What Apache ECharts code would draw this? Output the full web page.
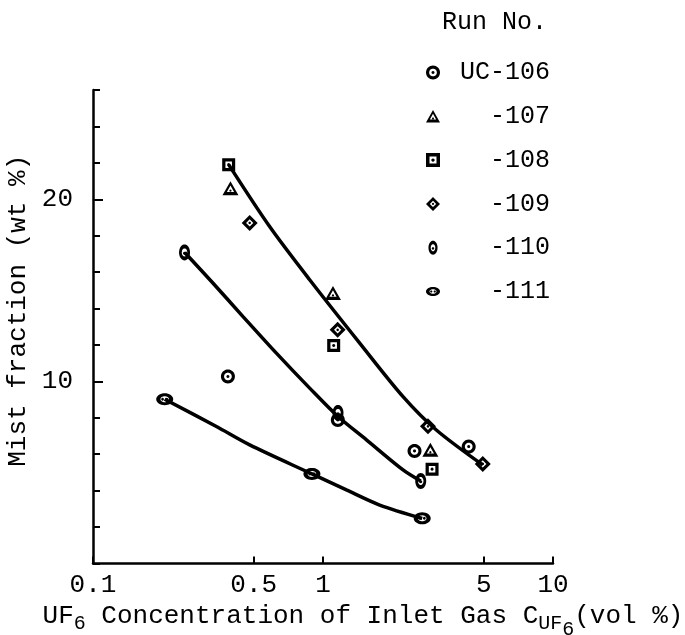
<!DOCTYPE html>
<html>
<head>
<meta charset="utf-8">
<script src="https://cdn.jsdelivr.net/npm/echarts@6/dist/echarts.min.js"></script>
<style>html,body{margin:0;padding:0;background:#fff}#c{width:685px;height:635px}</style>
</head>
<body>
<div id="c"></div>
<script>
// ---- data ----
const xTickValues = [0.1, 0.5, 1, 5, 10];
const xTickLabels = ['0.1', '0.5', '1', '5', '10'];
const yLabelValues = [10, 20];
const runNames = ['UC-106', '-107', '-108', '-109', '-110', '-111'];

const run106 = [[0.386, 10.27], [1.16, 7.88], [2.50, 6.18], [4.30, 6.42]];
const run107 = [[0.396, 20.6], [1.105, 14.85], [2.93, 6.24]];
const run108 = [[0.389, 21.9], [1.113, 11.97], [2.98, 5.18]];
const run109 = [[0.480, 18.7], [1.158, 12.83], [2.86, 7.53], [4.95, 5.47]];
const run110 = [[0.250, 17.08], [1.162, 8.27], [2.66, 4.53]];
const run111 = [[0.205, 9.02], [0.895, 4.92], [2.70, 2.48]];

const curveUpper = [[0.389, 21.9], [0.586, 18.5], [0.875, 15.58], [1.444, 12.1], [2.228, 9.16], [3.11, 7.33], [4.95, 5.41]];
const curveMiddle = [[0.2505, 17.08], [0.332, 15.4], [0.449, 13.56], [0.627, 11.55], [0.875, 9.63], [1.162, 8.07], [1.545, 6.79], [2.228, 5.14], [2.66, 4.53]];
const curveLower = [[0.205, 9.02], [0.344, 7.52], [0.480, 6.51], [0.895, 4.92], [1.264, 4.04], [1.764, 3.21], [2.70, 2.48]];

// ---- marker shapes (styling only) ----
function poly(pts, reverse) {
  const p = reverse ? pts.slice().reverse() : pts;
  return 'M' + p.map(q => q[0].toFixed(2) + ',' + q[1].toFixed(2)).join('L') + 'Z';
}
function ellipsePts(rx, ry, n) {
  const r = [];
  for (let i = 0; i < n; i++) {
    const a = -Math.PI / 2 + i * 2 * Math.PI / n;
    r.push([rx * Math.cos(a), ry * Math.sin(a)]);
  }
  return r;
}
function scalePts(pts, k) { return pts.map(q => [q[0] * k, q[1] * k]); }
function ring(outer, innerK, dots) {
  let s = poly(outer, false) + poly(scalePts(outer, innerK), true);
  (dots || []).forEach(d => { s += poly(d, false); });
  return 'path://' + s;
}
const dot = (cx, cy, r) => ellipsePts(r, r, 12).map(q => [q[0] + cx, q[1] + cy]);
const symCircle = ring(ellipsePts(10, 10, 32), 0.55, [dot(0, 0, 2.2)]);
const symTri = ring([[0, -10], [10, 8], [-10, 8]], 0.45, [dot(0, 2, 1.4)]);
const symSquare = ring([[-10, -10], [10, -10], [10, 10], [-10, 10]], 0.5, [dot(0, 0, 2.4)]);
const symDiamond = ring([[0, -10], [10, 0], [0, 10], [-10, 0]], 0.45, [dot(0, 0, 1.6)]);
const symVOval = ring(ellipsePts(6.5, 10, 32), 0.5, [dot(0, 1, 1.8)]);
const symHOval = ring(ellipsePts(10, 6.5, 32), 0.5, [dot(-2.5, 0, 1.6), dot(2.5, 0, 1.6)]);

const FONT = 'Liberation Mono';
const runData = [run106, run107, run108, run109, run110, run111];
const runSyms = [symCircle, symTri, symSquare, symDiamond, symVOval, symHOval];
const runSizes = [[14, 14], [16, 14], [13, 13], [16, 16], [11, 16], [17, 12]];

const series = [];
[curveUpper, curveMiddle, curveLower].forEach((c, i) => {
  series.push({
    name: 'curve' + i, type: 'line', data: c, smooth: 0.3, symbol: 'none',
    lineStyle: { color: '#000', width: 3.5 }, z: 2, silent: true
  });
});
runNames.forEach((n, i) => {
  series.push({
    name: n, type: 'scatter', data: runData[i], symbol: runSyms[i],
    symbolSize: runSizes[i], itemStyle: { color: '#000', opacity: 1 }, z: 5
  });
});

const chart = echarts.init(document.getElementById('c'), null, { renderer: 'canvas' });
chart.setOption({
  animation: false,
  backgroundColor: '#fff',
  textStyle: { fontFamily: FONT, color: '#000' },
  title: {
    text: 'Run No.', left: 442, top: 10, padding: 0,
    textStyle: { fontFamily: FONT, fontSize: 25, fontWeight: 'normal', color: '#000' }
  },
  legend: {
    orient: 'vertical', left: 426, top: 60, padding: 0,
    itemWidth: 14, itemHeight: 14, itemGap: 18.8,
    data: runNames,
    formatter: n => '{r|' + n + '}',
    textStyle: {
      fontFamily: FONT, fontSize: 25, lineHeight: 20, color: '#000',
      rich: { r: { width: 105, align: 'right', fontFamily: FONT, fontSize: 25, lineHeight: 20, color: '#000' } }
    }
  },
  grid: { left: 93, right: 132, top: 90, bottom: 71.5, containLabel: false, outerBoundsMode: 'none' },
  xAxis: {
    type: 'log', logBase: 10, min: 0.1, max: 10,
    axisLine: { lineStyle: { color: '#000', width: 2.5 } },
    axisTick: { inside: true, length: 7, customValues: xTickValues, lineStyle: { color: '#000', width: 2 } },
    axisLabel: {
      customValues: xTickValues, margin: 9, fontFamily: FONT, fontSize: 26, color: '#000',
      formatter: v => {
        let best = 0;
        xTickValues.forEach((t, i) => { if (Math.abs(Math.log10(t) - Math.log10(v)) < Math.abs(Math.log10(xTickValues[best]) - Math.log10(v))) best = i; });
        return xTickLabels[best];
      }
    },
    splitLine: { show: false }, minorTick: { show: false },
    name: '{n|UF}{s|6}{n| Concentration of Inlet Gas C}{s|UF}{ss|6}{n|(vol %)}',
    nameLocation: 'middle', nameGap: 13.5,
    nameTextStyle: {
      fontFamily: FONT, color: '#000', padding: [0, 0, 0, 80],
      rich: {
        n: { fontFamily: FONT, fontSize: 26, color: '#000' },
        s: { fontFamily: FONT, fontSize: 20, color: '#000', padding: [14, 0, 0, 0] },
        ss: { fontFamily: FONT, fontSize: 20, color: '#000', padding: [26, 0, 0, 0] }
      }
    }
  },
  yAxis: [{
    type: 'value', min: 0, max: 26, interval: 2,
    axisLine: { show: true, lineStyle: { color: '#000', width: 2.5 } },
    axisTick: { show: true, inside: true, length: 7, lineStyle: { color: '#000', width: 2 } },
    axisLabel: {
      margin: 20, fontFamily: FONT, fontSize: 26, color: '#000',
      formatter: v => (yLabelValues.indexOf(v) >= 0 ? String(v) : '')
    },
    splitLine: { show: false },
    name: 'Mist fraction (wt %)', nameLocation: 'middle', nameGap: 61,
    nameTextStyle: { fontFamily: FONT, fontSize: 26, color: '#000', padding: [0, 0, 0, 32] }
  }, {
    type: 'value', min: 0, max: 26, position: 'left',
    axisLine: { show: false },
    axisTick: { show: true, inside: true, length: 10, customValues: yLabelValues, lineStyle: { color: '#000', width: 2 } },
    axisLabel: { show: false }, splitLine: { show: false }
  }],
  series: series
});
</script>
</body>
</html>
